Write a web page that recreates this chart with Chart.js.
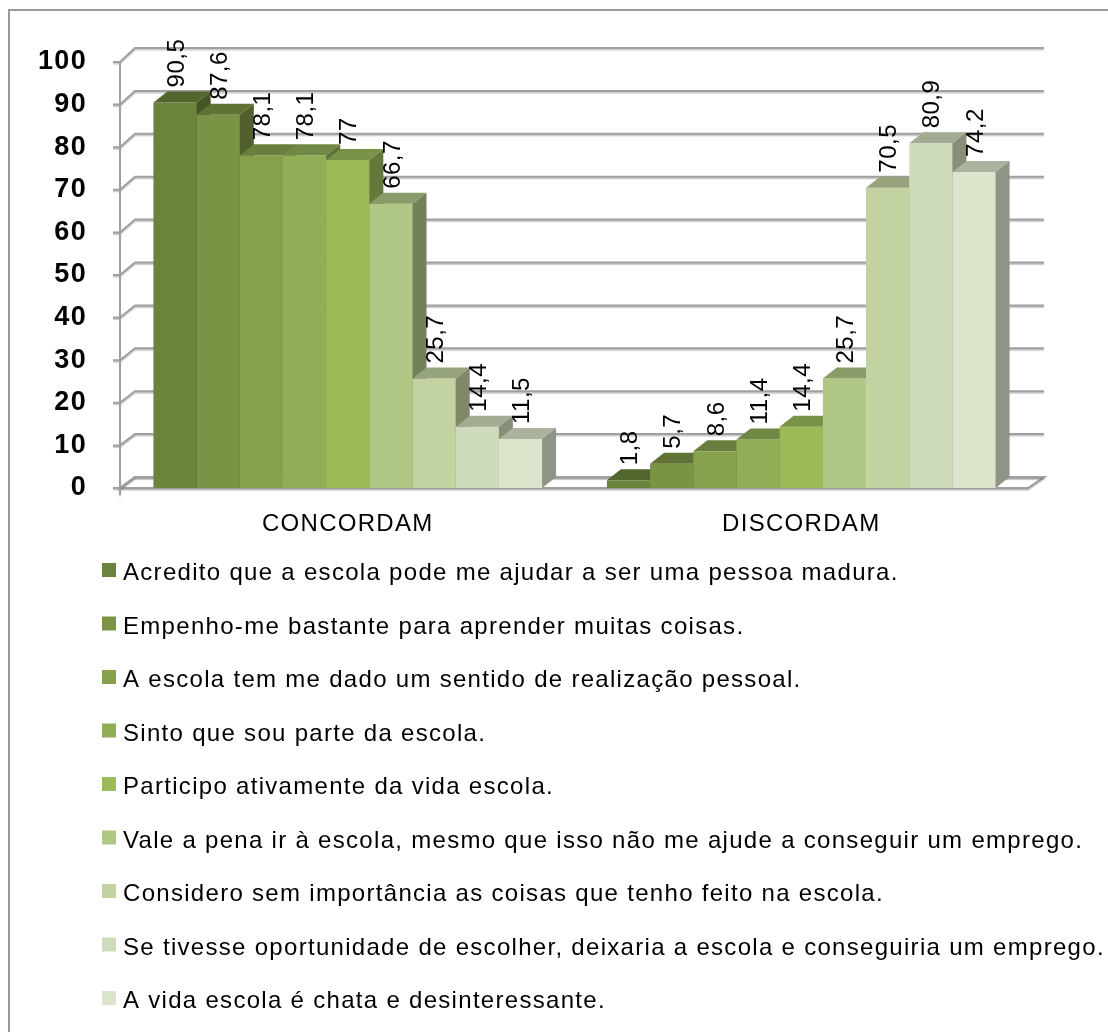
<!DOCTYPE html>
<html>
<head>
<meta charset="utf-8">
<script src="https://cdn.jsdelivr.net/npm/chart.js@4.4.1/dist/chart.umd.min.js"></script>
<style>
  html, body { margin: 0; padding: 0; background: #fff; }
  #wrap { width: 1108px; height: 1032px; position: relative; }
</style>
</head>
<body>
<div id="wrap"><canvas id="chart" width="1108" height="1032"></canvas></div>
<script>
const categories = ['CONCORDAM', 'DISCORDAM'];
const seriesNames = [
  'Acredito que a escola pode me ajudar a ser uma pessoa madura.',
  'Empenho-me bastante para aprender muitas coisas.',
  'A escola tem me dado um sentido de realização pessoal.',
  'Sinto que sou parte da escola.',
  'Participo ativamente da vida escola.',
  'Vale a pena ir à escola, mesmo que isso não me ajude a conseguir um emprego.',
  'Considero sem importância as coisas que tenho feito na escola.',
  'Se tivesse oportunidade de escolher, deixaria a escola e conseguiria um emprego.',
  'A vida escola é chata e desinteressante.'
];
const concordam = [90.5, 87.6, 78.1, 78.1, 77, 66.7, 25.7, 14.4, 11.5];
const discordam = [1.8, 5.7, 8.6, 11.4, 14.4, 25.7, 70.5, 80.9, 74.2];
const yTicks = [0, 10, 20, 30, 40, 50, 60, 70, 80, 90, 100];

const seriesColors = ['#6b833b', '#7b9344', '#86a04d', '#90ae56', '#9bbb59',
                      '#b0c786', '#c2d3a1', '#cfdcbb', '#dbe5cc'];
const FONT = '"Liberation Sans", Arial, sans-serif';
const DX = 14, DY = -11;

function shade(hex, f) {
  const n = parseInt(hex.slice(1), 16);
  const r = Math.round(((n >> 16) & 255) * f);
  const g = Math.round(((n >> 8) & 255) * f);
  const b = Math.round((n & 255) * f);
  return `rgb(${r},${g},${b})`;
}

const datasets = seriesNames.map((name, i) => ({
  label: name,
  data: [concordam[i], discordam[i]],
  backgroundColor: seriesColors[i]
}));

const bars3d = {
  id: 'bars3d',
  beforeDraw(chart) {
    const ctx = chart.ctx;
    ctx.letterSpacing = '1.3px';
    // outer frame
    ctx.save();
    ctx.strokeStyle = '#999';
    ctx.lineWidth = 2;
    ctx.strokeRect(9, 10, 2000, 2000);
    ctx.restore();
  },
  beforeDatasetsDraw(chart) {
    const { ctx, chartArea: a, scales: { y } } = chart;
    const front = v => y.getPixelForValue(v);
    const back = v => front(v) - 11 - 0.03 * v;
    const wx = a.left - 1;

    ctx.save();
    ctx.lineWidth = 2;
    ctx.strokeStyle = '#a0a0a0';
    ctx.shadowColor = 'rgba(0,0,0,0.22)';
    ctx.shadowOffsetY = 1.5;
    ctx.shadowBlur = 1;

    // floor
    const f0 = front(0), b0 = back(0);
    ctx.beginPath();
    ctx.moveTo(wx, f0);
    ctx.lineTo(a.right, f0);
    ctx.lineTo(a.right + 16, b0);
    ctx.lineTo(wx + 15, b0);
    ctx.closePath();
    ctx.fillStyle = '#fff';
    ctx.fill();
    ctx.stroke();

    // wall gridlines and ticks
    yTicks.forEach(v => {
      ctx.beginPath();
      ctx.moveTo(wx - 7, front(v));
      ctx.lineTo(wx, front(v));
      ctx.lineTo(wx + 15, back(v));
      ctx.lineTo(a.right + 16, back(v));
      ctx.stroke();
    });
    ctx.beginPath();
    ctx.moveTo(wx, front(yTicks[yTicks.length - 1]));
    ctx.lineTo(wx, f0 + 7);
    ctx.stroke();
    ctx.restore();

    // bars, painted left to right
    const bars = [];
    chart.data.datasets.forEach((ds, i) => {
      chart.getDatasetMeta(i).data.forEach((el, j) => {
        const p = el.getProps(['x', 'y', 'base', 'width'], true);
        bars.push({ p, color: ds.backgroundColor, v: ds.data[j] });
      });
    });
    bars.sort((m, n) => m.p.x - n.p.x);

    ctx.save();
    bars.forEach(({ p, color }) => {
      const L = p.x - p.width / 2, R = p.x + p.width / 2, T = p.y, B = p.base;
      ctx.fillStyle = color;
      ctx.fillRect(L, T, R - L + 0.6, B - T);
      ctx.fillStyle = shade(color, 0.78);
      ctx.beginPath();
      ctx.moveTo(L, T); ctx.lineTo(L + DX, T + DY); ctx.lineTo(R + DX, T + DY); ctx.lineTo(R, T);
      ctx.closePath(); ctx.fill();
      ctx.fillStyle = shade(color, 0.65);
      ctx.beginPath();
      ctx.moveTo(R, T); ctx.lineTo(R + DX, T + DY); ctx.lineTo(R + DX, B + DY); ctx.lineTo(R, B);
      ctx.closePath(); ctx.fill();
    });

    // value labels
    ctx.fillStyle = '#000';
    ctx.font = `24px ${FONT}`;
    ctx.letterSpacing = '0.5px';
    ctx.textAlign = 'left';
    ctx.textBaseline = 'middle';
    bars.forEach(({ p, v }) => {
      ctx.save();
      ctx.translate(p.x + 2, p.y - 15);
      ctx.rotate(-Math.PI / 2);
      ctx.fillText(String(v).replace('.', ','), 0, 0);
      ctx.restore();
    });
    ctx.restore();
    return false;
  },
  afterDraw(chart) {
    const ctx = chart.ctx;
    ctx.save();
    ctx.font = `24px ${FONT}`;
    ctx.letterSpacing = '1.3px';
    ctx.textAlign = 'left';
    ctx.textBaseline = 'alphabetic';
    chart.data.datasets.forEach((ds, i) => {
      const cy = 570 + i * 53.5;
      ctx.fillStyle = ds.backgroundColor;
      ctx.fillRect(102, cy - 7, 14, 14);
      ctx.fillStyle = '#000';
      ctx.fillText(ds.label, 123, cy + 10);
    });
    ctx.restore();
  }
};

new Chart(document.getElementById('chart'), {
  type: 'bar',
  data: { labels: categories, datasets },
  options: {
    responsive: false,
    animation: false,
    devicePixelRatio: 1,
    layout: { padding: { top: 62, right: 80, bottom: 484, left: 0 } },
    datasets: { bar: { categoryPercentage: 0.857, barPercentage: 1 } },
    scales: {
      x: {
        grid: { display: false },
        border: { display: false },
        ticks: { padding: 14, color: '#000', font: { size: 24, family: FONT } },
        afterFit(s) { s.height = 60; }
      },
      y: {
        min: yTicks[0],
        max: yTicks[yTicks.length - 1],
        grid: { display: false },
        border: { display: false },
        ticks: { stepSize: 10, padding: 26, color: '#000', font: { size: 27, weight: 'bold', family: FONT } },
        afterFit(s) { s.width = 121; }
      }
    },
    plugins: { legend: { display: false }, tooltip: { enabled: false } }
  },
  plugins: [bars3d]
});
</script>
</body>
</html>
